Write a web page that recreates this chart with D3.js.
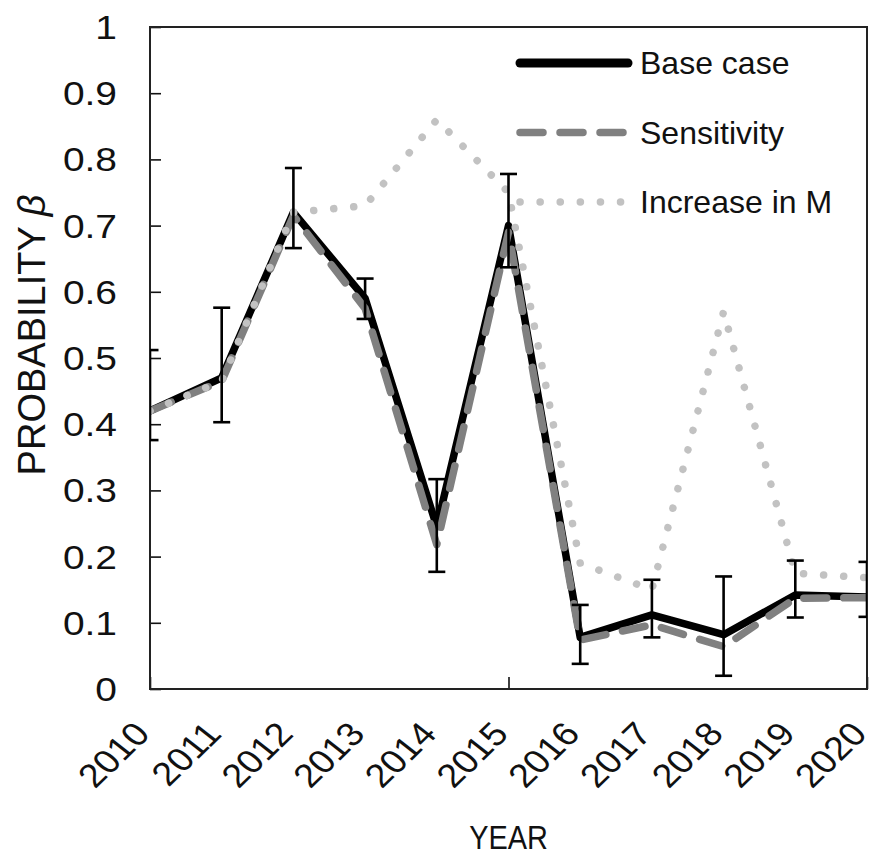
<!DOCTYPE html>
<html>
<head>
<meta charset="utf-8">
<script src="https://cdn.jsdelivr.net/npm/d3@7"></script>
<style>
  body { margin: 0; background: #fff; }
  text { font-family: "Liberation Sans", Arial, sans-serif; fill: #111; }
</style>
</head>
<body>
<div id="chart"></div>
<script>
// data
var years = [2010, 2011, 2012, 2013, 2014, 2015, 2016, 2017, 2018, 2019, 2020];
var baseCase = [0.42, 0.47, 0.72, 0.59, 0.245, 0.70, 0.078, 0.112, 0.082, 0.142, 0.139];
var sensitivity = [0.42, 0.465, 0.715, 0.575, 0.218, 0.69, 0.074, 0.097, 0.064, 0.137, 0.138];
var increaseM = [0.42, 0.465, 0.72, 0.73, 0.86, 0.75, 0.19, 0.15, 0.57, 0.175, 0.168];
var errLow = [0.376, 0.403, 0.666, 0.559, 0.177, 0.637, 0.038, 0.078, 0.02, 0.108, 0.109];
var errHigh = [0.512, 0.576, 0.787, 0.62, 0.317, 0.778, 0.127, 0.165, 0.17, 0.194, 0.192];
var yTicks = [0, 0.1, 0.2, 0.3, 0.4, 0.5, 0.6, 0.7, 0.8, 0.9, 1];
var legendNames = ["Base case", "Sensitivity", "Increase in M"];

var W = 877, H = 861;
var pLeft = 150, pRight = 867, pTop = 27, pBottom = 689;

var svg = d3.select('#chart').append('svg')
    .attr('width', W)
    .attr('height', H);

svg.append("rect").attr('width', W).attr('height', H).attr('fill', "white");

var x = d3.scaleLinear().domain([2010, 2020]).range([pLeft, pRight]);
var y = d3.scaleLinear().domain([0, 1]).range([pBottom, pTop]);

svg.append("clipPath").attr("id", "plotclip")
    .append("rect")
    .attr("x", pLeft).attr("y", pTop)
    .attr("width", pRight - pLeft).attr("height", pBottom - pTop);

// y axis with inward ticks
var yAxis = svg.append("g")
    .attr("transform", "translate(" + pLeft + ",0)")
    .call(d3.axisLeft(y).tickValues(yTicks).tickSize(-11).tickPadding(0)
        .tickFormat(function (d) { return String(+d.toFixed(1)); }));
yAxis.select(".domain").remove();
yAxis.selectAll(".tick line").attr("stroke", "#111").attr("stroke-width", 1.6);
yAxis.selectAll(".tick text")
    .attr("x", null).attr("dy", null)
    .attr("text-anchor", "end")
    .attr("dominant-baseline", "central")
    .attr("transform", "translate(-33,0) scale(1.18,1)")
    .style("font-size", "33px");

// x axis: major ticks every 5 years (inward), labels every year
var xTickAxis = svg.append("g")
    .attr("transform", "translate(0," + pBottom + ")")
    .call(d3.axisBottom(x).tickValues([2010, 2015, 2020]).tickSize(-12).tickFormat(""));
xTickAxis.select(".domain").remove();
xTickAxis.selectAll(".tick line").attr("stroke", "#111").attr("stroke-width", 1.6);

var xLabelAxis = svg.append("g")
    .attr("transform", "translate(0," + pBottom + ")")
    .call(d3.axisBottom(x).tickValues(years).tickSize(0).tickFormat(d3.format("d")));
xLabelAxis.select(".domain").remove();
xLabelAxis.selectAll(".tick text")
    .attr("y", null).attr("dy", null)
    .attr("text-anchor", "end")
    .attr("transform", "translate(1,46) scale(1.15,1) rotate(-48)")
    .style("font-size", "33px");

// plot frame
svg.append("rect")
    .attr("x", pLeft).attr("y", pTop)
    .attr("width", pRight - pLeft).attr("height", pBottom - pTop)
    .attr("fill", "none")
    .attr("stroke", "#222")
    .attr("stroke-width", 2);

var plot = svg.append("g").attr("clip-path", "url(#plotclip)");

function series(vals) {
    return years.map(function (d, i) { return [d, vals[i]]; });
}
var line = d3.line()
    .x(function (d) { return x(d[0]); })
    .y(function (d) { return y(d[1]); });

var styles = [
    { stroke: "#000000", width: 7.5, dash: null, cap: "round" },
    { stroke: "#808080", width: 7.5, dash: "23,17", cap: "round" },
    { stroke: "#c2c2c2", width: 7.5, dash: "0.1,20", cap: "round" }
];
var allSeries = [baseCase, sensitivity, increaseM];

allSeries.forEach(function (vals, i) {
    plot.append("path")
        .datum(series(vals))
        .attr("d", line)
        .attr("fill", "none")
        .attr("stroke", styles[i].stroke)
        .attr("stroke-width", styles[i].width)
        .attr("stroke-linecap", styles[i].cap)
        .attr("stroke-linejoin", "round")
        .attr("stroke-dasharray", styles[i].dash);
});

// error bars on the base case
var capHalf = 8.5;
var eb = plot.append("g").attr("stroke", "#000").attr("stroke-width", 2.6).attr("fill", "none");
years.forEach(function (yr, i) {
    eb.append("line")
        .attr("x1", x(yr)).attr("x2", x(yr))
        .attr("y1", y(errLow[i])).attr("y2", y(errHigh[i]));
    eb.append("line")
        .attr("x1", x(yr) - capHalf).attr("x2", x(yr) + capHalf)
        .attr("y1", y(errLow[i])).attr("y2", y(errLow[i]));
    eb.append("line")
        .attr("x1", x(yr) - capHalf).attr("x2", x(yr) + capHalf)
        .attr("y1", y(errHigh[i])).attr("y2", y(errHigh[i]));
});

// legend
var legend = svg.append("g").attr("transform", "translate(520,63)");
legendNames.forEach(function (name, i) {
    var g = legend.append("g").attr("transform", "translate(0," + (i * 69.5) + ")");
    g.append("line")
        .attr("x1", 0).attr("x2", 108)
        .attr("y1", 0).attr("y2", 0)
        .attr("stroke", styles[i].stroke)
        .attr("stroke-width", i === 0 ? 9 : styles[i].width)
        .attr("stroke-linecap", styles[i].cap)
        .attr("stroke-dasharray", styles[i].dash);
    g.append("text")
        .attr("x", 120).attr("y", 0)
        .attr("dominant-baseline", "central")
        .style("font-size", "32px")
        .text(name);
});

// axis titles
svg.append("text")
    .attr("transform", "translate(" + x(2015) + ",849) scale(0.85,1)")
    .attr("text-anchor", "middle")
    .style("font-size", "34px")
    .text("YEAR");

var yTitle = svg.append("text")
    .attr("transform", "translate(45,335) rotate(-90)")
    .attr("text-anchor", "middle")
    .style("font-size", "38px");
yTitle.append("tspan").text("PROBABILITY ");
yTitle.append("tspan").style("font-style", "italic").text("β");
</script>
</body>
</html>
